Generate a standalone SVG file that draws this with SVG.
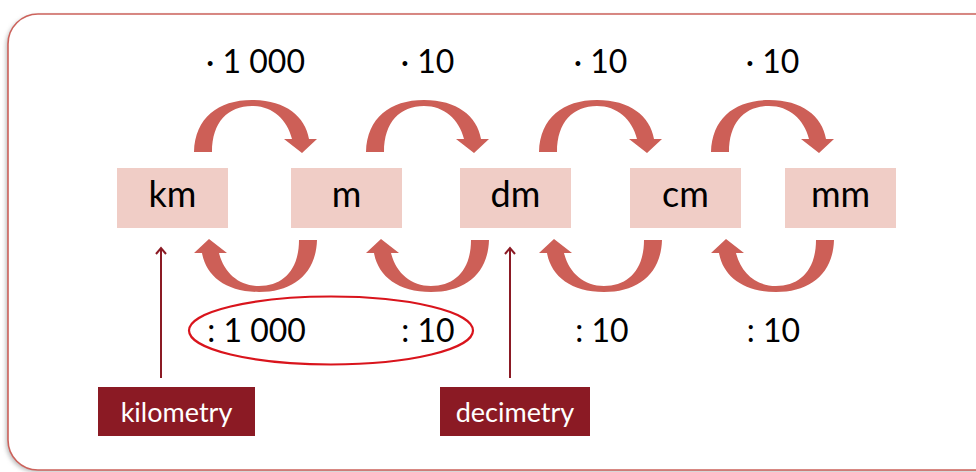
<svg xmlns="http://www.w3.org/2000/svg" width="976" height="472" viewBox="0 0 976 472">
<style>
.frame{fill:#ffffff;stroke:#cc625b;stroke-width:1.6}
.box{fill:#f0cdc6}
.unit{font-family:Lato,"Open Sans",sans-serif;font-size:36px;fill:#000;text-anchor:middle}
.lbl{font-family:Lato,"Open Sans",sans-serif;font-size:32px;fill:#000;text-anchor:middle}
.tag{fill:#8b1a24}
.tagt{font-family:Lato,"Open Sans",sans-serif;font-size:27px;fill:#fff;text-anchor:middle}
.carrow{fill:#cd5f57}
.ptr{stroke:#8b1a24;stroke-width:2;fill:none}
</style>
<defs>
<path id="arc" d="M194,152 C195,118 218,100 252,100 C285,100 305,116 309,139 L317,139 L302,153 L284,139 L292,139 C287,119 272,106 252,106 C228,106 212,122 212,152 Z"/>
<marker id="head" markerWidth="12" markerHeight="12" refX="10" refY="6" orient="auto" markerUnits="userSpaceOnUse" viewBox="0 0 12 12">
<polyline points="4,1 10,6 4,11" fill="none" stroke="#8b1a24" stroke-width="2"/>
</marker>
<filter id="sh" x="-5%" y="-5%" width="110%" height="110%"><feGaussianBlur stdDeviation="2"/></filter>
</defs>
<rect x="6" y="16" width="1010" height="456" rx="30" fill="#bbbbbb" filter="url(#sh)"/>
<rect class="frame" x="8" y="14" width="1010" height="456" rx="30"/>
<g id="connectors">
<use href="#arc" class="carrow"/>
<use href="#arc" class="carrow" transform="translate(172,0)"/>
<use href="#arc" class="carrow" transform="translate(345,0)"/>
<use href="#arc" class="carrow" transform="translate(517,0)"/>
<g transform="rotate(180 255.5 196)">
<use href="#arc" class="carrow"/>
<use href="#arc" class="carrow" transform="translate(-172,0)"/>
<use href="#arc" class="carrow" transform="translate(-345,0)"/>
<use href="#arc" class="carrow" transform="translate(-517,0)"/>
</g>
<line class="ptr" x1="161" y1="378" x2="161" y2="248" marker-end="url(#head)"/>
<line class="ptr" x1="510" y1="378" x2="510" y2="248" marker-end="url(#head)"/>
</g>
<g id="labels">
<text class="lbl" x="255.5" y="73">· 1 000</text>
<text class="lbl" x="427.5" y="73">· 10</text>
<text class="lbl" x="600.5" y="73">· 10</text>
<text class="lbl" x="772.5" y="73">· 10</text>
<text class="lbl" x="256.5" y="342">: 1 000</text>
<text class="lbl" x="428" y="342">: 10</text>
<text class="lbl" x="602" y="342">: 10</text>
<text class="lbl" x="773.5" y="342">: 10</text>
<ellipse cx="331" cy="330.5" rx="142" ry="34" fill="none" stroke="#d9141c" stroke-width="2.2"/>
</g>
<g id="node-km"><rect class="box" x="117" y="168" width="111" height="60"/><text class="unit" x="172.5" y="207">km</text></g>
<g id="node-m"><rect class="box" x="291" y="168" width="111" height="60"/><text class="unit" x="346.5" y="207">m</text></g>
<g id="node-dm"><rect class="box" x="460" y="168" width="111" height="60"/><text class="unit" x="515.5" y="207">dm</text></g>
<g id="node-cm"><rect class="box" x="630" y="168" width="111" height="60"/><text class="unit" x="685.5" y="207">cm</text></g>
<g id="node-mm"><rect class="box" x="785" y="168" width="111" height="60"/><text class="unit" x="840.5" y="207">mm</text></g>
<g id="tag-kilometry"><rect class="tag" x="98" y="387" width="157" height="49"/><text class="tagt" x="176.5" y="422">kilometry</text></g>
<g id="tag-decimetry"><rect class="tag" x="440" y="387" width="150" height="49"/><text class="tagt" x="515" y="422">decimetry</text></g>
</svg>
